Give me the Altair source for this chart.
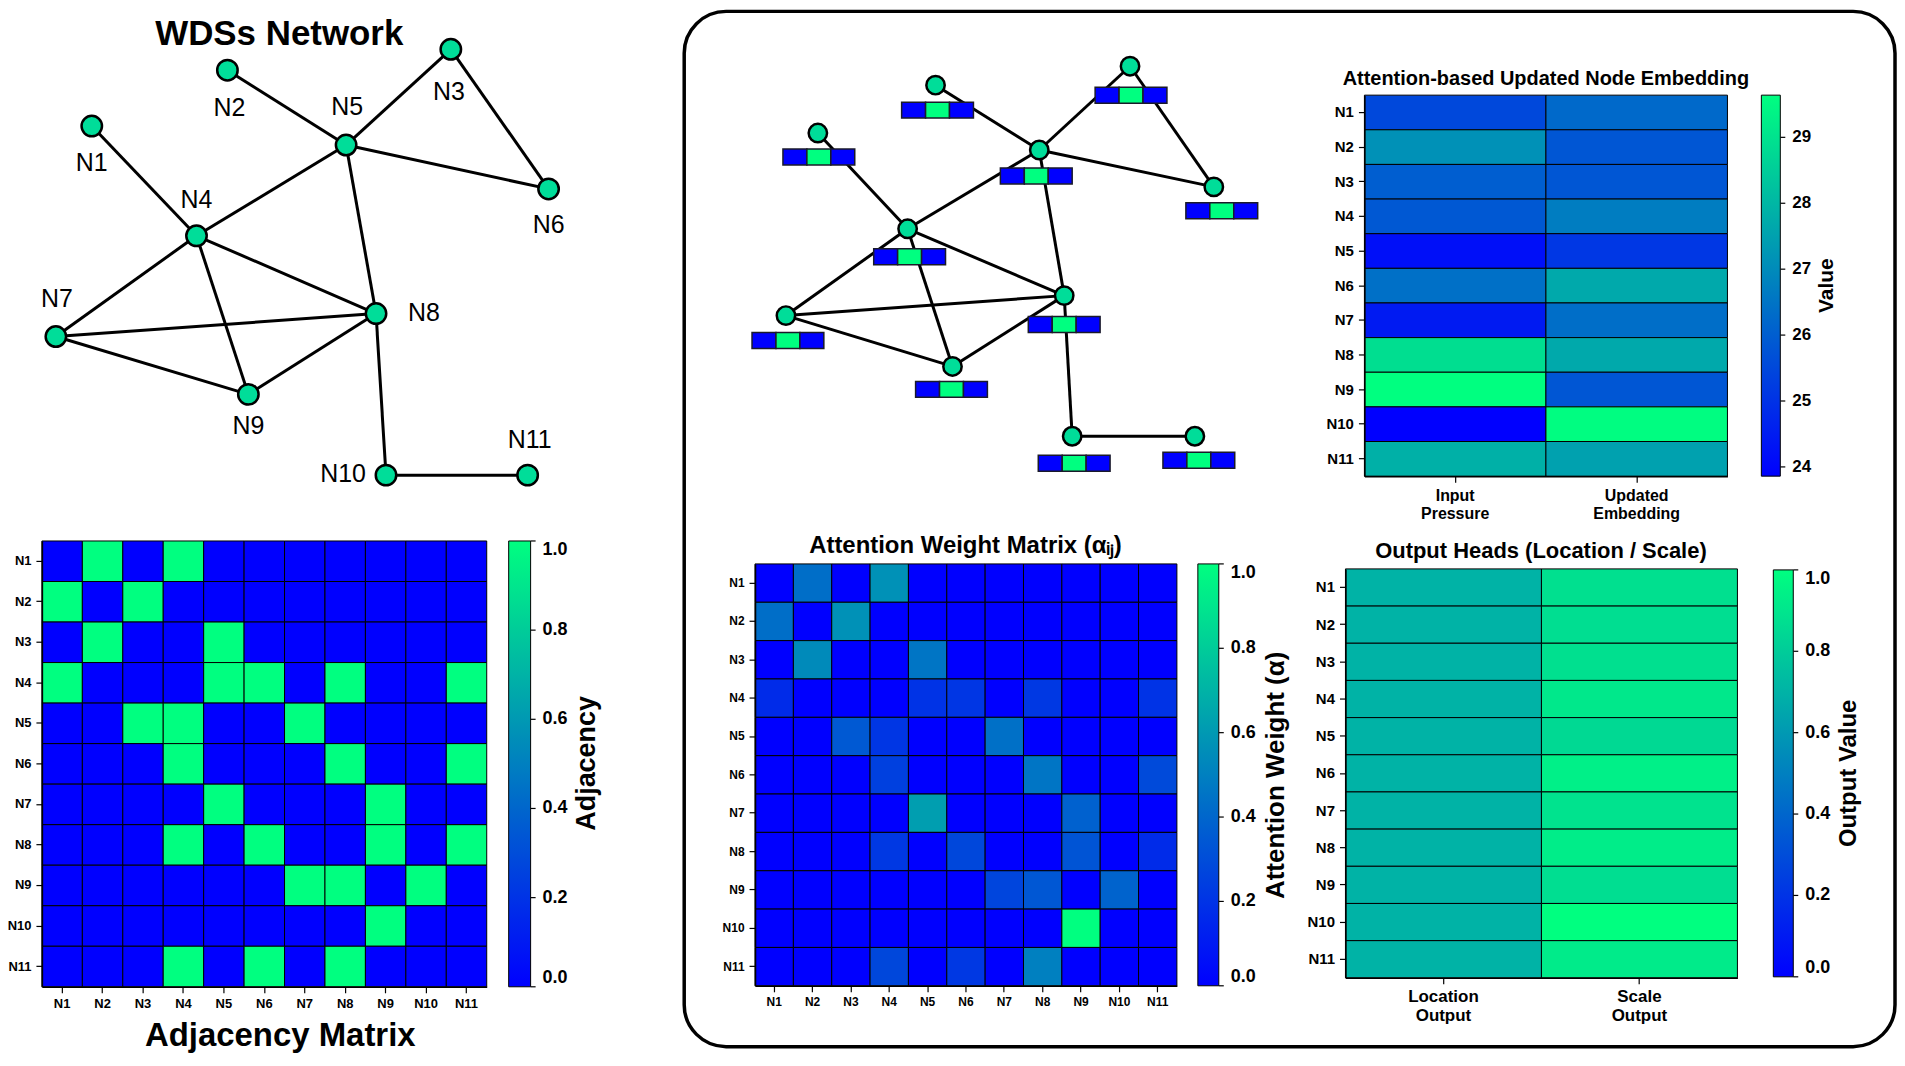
import altair as alt
import pandas as pd

FONT = "Liberation Sans"
WINTER = ["#0000ff", "#00ff80"]
NODE_FILL = "#00dd99"

# plot-area origin (in reference pixel units) and total plot size
OX, OY = 8, 2
W, H = 1894, 1046

nodes = [f"N{i}" for i in range(1, 12)]

# ---- WDSs network (left graph): node / label positions
wds_x = [92, 228, 452, 197, 347, 550, 56, 377, 249, 387, 529]
wds_y = [119, 63, 42, 229, 138, 182, 330, 307, 388, 469, 469]
wds_lx = [92, 230, 450, 197, 348, 550, 57, 425, 249, 344, 531]
wds_ly = [156, 101, 85, 193, 100, 218, 292, 306, 420, 468, 434]

edge_src = ["N1", "N2", "N3", "N3", "N5", "N4", "N5", "N4", "N4", "N4", "N7", "N7", "N8", "N8", "N10"]
edge_dst = ["N4", "N5", "N5", "N6", "N6", "N5", "N8", "N7", "N9", "N8", "N8", "N9", "N9", "N10", "N11"]

# ---- attention graph (right, inside the frame)
att_x = [820, 938, 1133, 910, 1042, 1217, 788, 1067, 955, 1075, 1198]
att_y = [126, 78, 59, 222, 143, 180, 309, 289, 360, 430, 430]
emb_bx = [821, 940, 1134, 912, 1039, 1225, 790, 1067, 954, 1077, 1202]
emb_by = [150, 103, 88, 250, 169, 204, 334, 318, 383, 457, 454]
bar_cells = [0, 1, 0]

# ---- matrices
adjacency = [
    [0, 1, 0, 1, 0, 0, 0, 0, 0, 0, 0],
    [1, 0, 1, 0, 0, 0, 0, 0, 0, 0, 0],
    [0, 1, 0, 0, 1, 0, 0, 0, 0, 0, 0],
    [1, 0, 0, 0, 1, 1, 0, 1, 0, 0, 1],
    [0, 0, 1, 1, 0, 0, 1, 0, 0, 0, 0],
    [0, 0, 0, 1, 0, 0, 0, 1, 0, 0, 1],
    [0, 0, 0, 0, 1, 0, 0, 0, 1, 0, 0],
    [0, 0, 0, 1, 0, 1, 0, 0, 1, 0, 1],
    [0, 0, 0, 0, 0, 0, 1, 1, 0, 1, 0],
    [0, 0, 0, 0, 0, 0, 0, 0, 1, 0, 0],
    [0, 0, 0, 1, 0, 1, 0, 1, 0, 0, 0],
]
attention = [
    [0, .43, 0, .57, 0, 0, 0, 0, 0, 0, 0],
    [.43, 0, .57, 0, 0, 0, 0, 0, 0, 0, 0],
    [0, .54, 0, 0, .46, 0, 0, 0, 0, 0, 0],
    [.17, 0, 0, 0, .20, .21, 0, .22, 0, 0, .20],
    [0, 0, .35, .21, 0, 0, .44, 0, 0, 0, 0],
    [0, 0, 0, .25, 0, 0, 0, .46, 0, 0, .29],
    [0, 0, 0, 0, .62, 0, 0, 0, .38, 0, 0],
    [0, 0, 0, .22, 0, .28, 0, 0, .33, 0, .17],
    [0, 0, 0, 0, 0, 0, .27, .34, 0, .39, 0],
    [0, 0, 0, 0, 0, 0, 0, 0, 1.0, 0, 0],
    [0, 0, 0, .28, 0, .22, 0, .50, 0, 0, 0],
]
emb_cols = ["Input Pressure", "Updated Embedding"]
input_pressure = [25.5, 27.15, 26.0, 25.85, 24.2, 26.4, 24.45, 28.9, 29.64, 23.86, 27.85]
updated_embedding = [26.25, 25.8, 25.8, 26.7, 25.1, 27.7, 26.35, 27.7, 25.8, 29.6, 27.5]
out_cols = ["Location Output", "Scale Output"]
location_output = [0.70, 0.70, 0.70, 0.70, 0.70, 0.70, 0.70, 0.70, 0.70, 0.70, 0.70]
scale_output = [0.88, 0.87, 0.88, 0.91, 0.85, 0.94, 0.89, 0.93, 0.87, 1.0, 0.92]

dec1 = [0, 0.2, 0.4, 0.6, 0.8, 1.0]
emb_ticks = [24, 25, 26, 27, 28, 29]

# rounded frame around the right part: left, top, right, bottom
frame_box = [686, 4, 1900, 1042]


def px(x):
    return x - OX


def py(y):
    return y - OY


def pix_x():
    return alt.Scale(domain=[OX, OX + W], range=[0, W], nice=False, zero=False)


def pix_y():
    return alt.Scale(domain=[OY, OY + H], range=[0, H], nice=False, zero=False)


def edges_chart(xs, ys):
    pos = {n: (x, y) for n, x, y in zip(nodes, xs, ys)}
    df = pd.DataFrame({
        "x": [pos[s][0] for s in edge_src], "y": [pos[s][1] for s in edge_src],
        "x2": [pos[t][0] for t in edge_dst], "y2": [pos[t][1] for t in edge_dst]})
    return alt.Chart(df).mark_rule(color="black", strokeWidth=3).encode(
        x=alt.X("x:Q", scale=pix_x(), axis=None), y=alt.Y("y:Q", scale=pix_y(), axis=None),
        x2="x2:Q", y2="y2:Q")


def nodes_chart(xs, ys, size):
    df = pd.DataFrame({"node": nodes, "x": xs, "y": ys})
    return alt.Chart(df).mark_circle(size=size, color=NODE_FILL, opacity=1, stroke="black",
                                     strokeWidth=2.5).encode(
        x=alt.X("x:Q", scale=pix_x(), axis=None), y=alt.Y("y:Q", scale=pix_y(), axis=None))


def text(t, x, y, size, weight="bold", angle=0):
    return alt.Chart(pd.DataFrame({"t": [t]})).mark_text(
        fontSize=size, fontWeight=weight, angle=angle, font=FONT, color="black",
        align="center", baseline="middle").encode(
        text="t:N", x=alt.value(px(x)), y=alt.value(py(y)))


def heatmap(df, cols, frame, cdomain, leg, ysize, xsize, multiline=False):
    x0, y0, x1, y1 = frame
    common = dict(title=None, labelFont=FONT, labelFontWeight="bold", labelColor="black",
                  tickColor="black", tickSize=6, tickWidth=1.2, domainColor="black",
                  domainWidth=1.5, labelPadding=5, grid=False, zindex=1, labelOverlap=False)
    xax = dict(common, orient="bottom", offset=py(y1) - H, labelAngle=0, labelFontSize=xsize)
    if multiline:
        xax.update(labelExpr="split(datum.label, ' ')", labelLineHeight=xsize + 2)
    yax = dict(common, orient="left", offset=-px(x0), labelFontSize=ysize)
    lx, ly, llen, lthick, lsize, values, fmt = leg
    legend = alt.Legend(orient="none", legendX=px(lx), legendY=py(ly), direction="vertical",
                        gradientLength=llen, gradientThickness=lthick, title=None,
                        values=values, format=fmt, labelFont=FONT, labelFontSize=lsize,
                        labelFontWeight="bold", labelColor="black", labelOffset=12,
                        labelBaseline="middle", gradientStrokeColor="black",
                        gradientStrokeWidth=1, padding=0, labelOverlap=False)
    rect = alt.Chart(df).mark_rect(stroke="black", strokeWidth=1).encode(
        x=alt.X("col:N", sort=cols, axis=alt.Axis(**xax),
                scale=alt.Scale(range=[px(x0), px(x1)], paddingInner=0, paddingOuter=0)),
        y=alt.Y("row:N", sort=nodes, axis=alt.Axis(**yax),
                scale=alt.Scale(range=[py(y0), py(y1)], paddingInner=0, paddingOuter=0)),
        color=alt.Color("v:Q", scale=alt.Scale(domain=cdomain, range=WINTER, interpolate="rgb"),
                        legend=legend))
    # small tick marks on the right side of the colour bar
    ticks = alt.Chart(pd.DataFrame({"v": values})).mark_rule(color="black", strokeWidth=1.2).encode(
        x=alt.value(px(lx + lthick)), x2=alt.value(px(lx + lthick) + 5),
        y=alt.Y("v:Q", axis=None,
                scale=alt.Scale(domain=cdomain, range=[py(ly + llen), py(ly)], nice=False, zero=False)))
    return [rect, ticks]


def matrix_df(mat):
    return pd.DataFrame([{"row": nodes[i], "col": nodes[j], "v": mat[i][j]}
                         for i in range(11) for j in range(11)])


def two_col_df(cols, a, b):
    rows = []
    for i, n in enumerate(nodes):
        rows.append({"row": n, "col": cols[0], "v": a[i]})
        rows.append({"row": n, "col": cols[1], "v": b[i]})
    return pd.DataFrame(rows)


# frame
box = alt.Chart(pd.DataFrame({"x": [frame_box[0]], "y": [frame_box[1]],
                              "x2": [frame_box[2]], "y2": [frame_box[3]]})).mark_rect(
    fill="white", fillOpacity=0, stroke="black", strokeWidth=3.5, cornerRadius=42).encode(
    x=alt.X("x:Q", scale=pix_x(), axis=None), x2="x2:Q",
    y=alt.Y("y:Q", scale=pix_y(), axis=None), y2="y2:Q")

# left network labels
wds_labels = alt.Chart(pd.DataFrame({"node": nodes, "lx": wds_lx, "ly": wds_ly})).mark_text(
    fontSize=25, font=FONT, color="black", baseline="middle", align="center").encode(
    x=alt.X("lx:Q", scale=pix_x(), axis=None), y=alt.Y("ly:Q", scale=pix_y(), axis=None),
    text="node:N")

# small embedding bars under the attention-graph nodes
bar_rows = []
for n, bx, by in zip(nodes, emb_bx, emb_by):
    for k, v in enumerate(bar_cells):
        bar_rows.append({"node": n, "x": bx - 36 + 24 * k, "x2": bx - 12 + 24 * k,
                         "y": by - 8, "y2": by + 8, "v": v})
bars = alt.Chart(pd.DataFrame(bar_rows)).mark_rect(stroke="#1a1a2a", strokeWidth=1.5).encode(
    x=alt.X("x:Q", scale=pix_x(), axis=None), x2="x2:Q",
    y=alt.Y("y:Q", scale=pix_y(), axis=None), y2="y2:Q",
    color=alt.Color("v:Q", scale=alt.Scale(domain=[0, 1], range=WINTER, interpolate="rgb"),
                    legend=None))

adj = heatmap(matrix_df(adjacency), nodes, (42, 535, 488, 982), [0, 1],
              (510, 535, 447, 22, 18, dec1, ".1f"), 13, 13)
att = heatmap(matrix_df(attention), nodes, (757, 558, 1180, 981), [0, 1],
              (1201, 558, 423, 21, 18, dec1, ".1f"), 12, 12)
emb = heatmap(two_col_df(emb_cols, input_pressure, updated_embedding), emb_cols,
              (1368, 88, 1732, 470), [23.86, 29.64],
              (1766, 88, 382, 19, 17, emb_ticks, "d"), 15, 16, multiline=True)
out = heatmap(two_col_df(out_cols, location_output, scale_output), out_cols,
              (1349, 563, 1742, 973), [0, 1],
              (1778, 564, 408, 20, 18, dec1, ".1f"), 15, 17, multiline=True)

layers = [
    box,
    edges_chart(wds_x, wds_y), nodes_chart(wds_x, wds_y, 420), wds_labels,
    edges_chart(att_x, att_y), bars, nodes_chart(att_x, att_y, 340),
    *adj, *att, *emb, *out,
    text("WDSs Network", 280, 27, 35),
    text("Adjacency Matrix", 281, 1031, 33),
    text("Attention Weight Matrix (\u03b1\u1d62\u2c7c)", 968, 540, 24),
    text("Attention-based Updated Node Embedding", 1550, 72, 20),
    text("Output Heads (Location / Scale)", 1545, 545, 22),
    text("Adjacency", 589, 758, 27, angle=270),
    text("Attention Weight (\u03b1)", 1279, 770, 26, angle=270),
    text("Value", 1832, 279, 21, angle=270),
    text("Output Value", 1854, 768, 24, angle=270),
]

chart = alt.layer(*layers).resolve_scale(
    x="independent", y="independent", color="independent"
).properties(
    width=W, height=H, padding=0, background="white",
    autosize=alt.AutoSizeParams(type="none"),
).configure_view(strokeWidth=0)

chart.save("out.html", embed_options={"renderer": "svg", "actions": False})
